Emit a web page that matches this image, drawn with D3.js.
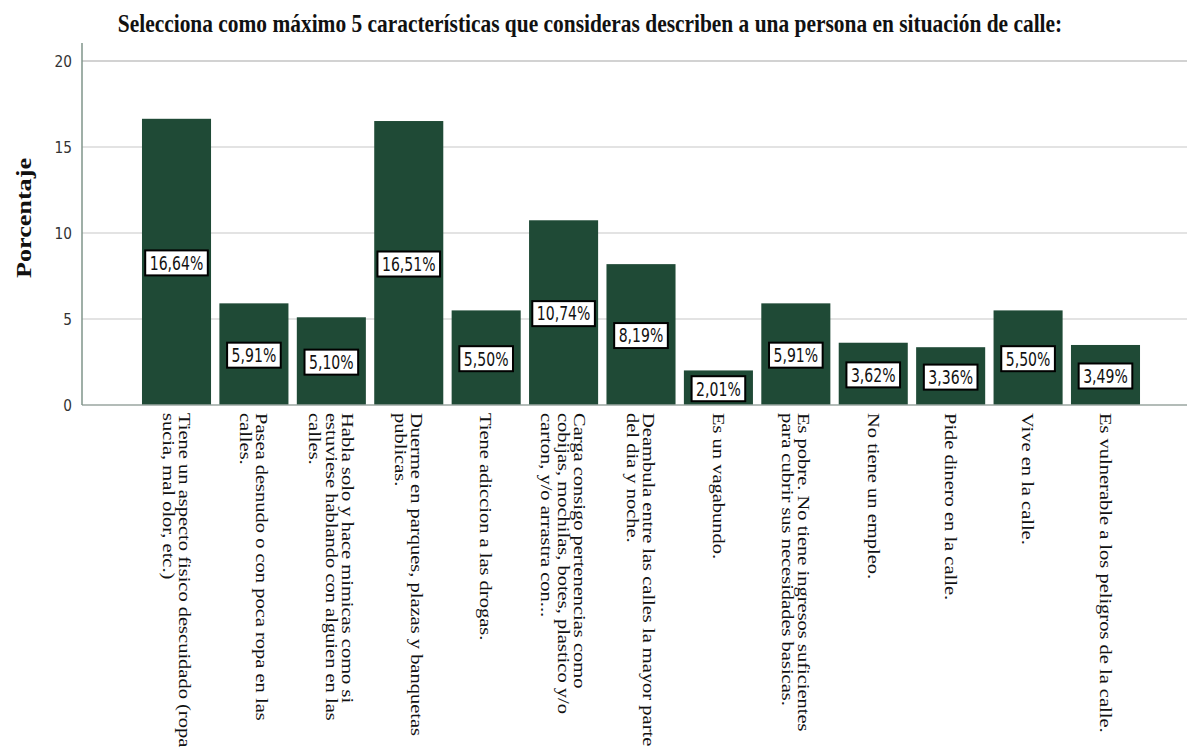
<!DOCTYPE html>
<html><head><meta charset="utf-8">
<script src="https://cdn.jsdelivr.net/npm/d3@7"></script>
<style>body{margin:0;background:#fff}svg{display:block}</style>
</head><body>
<svg id="c" width="1187" height="755"></svg>
<script>
const titleText = "Selecciona como máximo 5 características que consideras describen a una persona en situación de calle:";
const yTitle = "Porcentaje";
const categories = [
  ["Tiene un aspecto fisico descuidado (ropa", "sucia, mal olor, etc.)"],
  ["Pasea desnudo o con poca ropa en las", "calles."],
  ["Habla solo y hace mimicas como si", "estuviese hablando con alguien en las", "calles."],
  ["Duerme en parques, plazas y banquetas", "publicas."],
  ["Tiene adiccion a las drogas."],
  ["Carga consigo pertenencias como", "cobijas, mochilas, botes, plastico y/o", "carton, y/o arrastra con..."],
  ["Deambula entre las calles la mayor parte", "del dia y noche."],
  ["Es un vagabundo."],
  ["Es pobre. No tiene ingresos suficientes", "para cubrir sus necesidades basicas."],
  ["No tiene un empleo."],
  ["Pide dinero en la calle."],
  ["Vive en la calle."],
  ["Es vulnerable a los peligros de la calle."]
];
const values = [16.64, 5.91, 5.10, 16.51, 5.50, 10.74, 8.19, 2.01, 5.91, 3.62, 3.36, 5.50, 3.49];
const yTicks = [0, 5, 10, 15, 20];

const svg = d3.select("#c");
const idx = d3.range(values.length);
const x = d3.scaleBand().domain(idx).range([137.8, 1144.2]).paddingInner(0.108).paddingOuter(0.054);
const y = d3.scaleLinear().domain([0, 20]).range([405, 61]);
const axisX0 = 82, gridRight = 1187;

// gridlines
svg.append("g").selectAll("line").data(yTicks.filter(d => d > 0)).join("line")
  .attr("x1", axisX0).attr("x2", gridRight)
  .attr("y1", d => y(d)).attr("y2", d => y(d))
  .attr("stroke", d => d === 20 ? "#d2d2d2" : "#c8c8c8")
  .attr("stroke-width", d => d === 20 ? 2 : 1.2);

// bars
svg.append("g").selectAll("rect").data(idx).join("rect")
  .attr("x", i => x(i)).attr("width", x.bandwidth())
  .attr("y", i => y(values[i])).attr("height", i => y(0) - y(values[i]))
  .attr("fill", "#1f4a36");

// x axis baseline
svg.append("line").attr("x1", axisX0).attr("x2", gridRight)
  .attr("y1", y(0)).attr("y2", y(0)).attr("stroke", "#9aa6a0").attr("stroke-width", 1.5);

// y axis
const yAxis = d3.axisLeft(y).tickValues(yTicks).tickSize(0).tickPadding(10);
const ga = svg.append("g").attr("transform", `translate(${axisX0},0)`).call(yAxis);
ga.select(".domain").remove();
ga.selectAll(".tick text").each(function () {
  const t = d3.select(this);
  const xx = +t.attr("x");
  t.attr("x", null).attr("transform", `translate(${xx},0) scale(0.83,1)`);
}).attr("font-family", "DejaVu Sans, sans-serif").attr("font-size", 16.5).attr("fill", "#333");
svg.append("line").attr("x1", axisX0).attr("x2", axisX0).attr("y1", 43).attr("y2", y(0))
  .attr("stroke", "#7f948a").attr("stroke-width", 1.5);

// value labels
const fmt = v => v.toFixed(2).replace(".", ",") + "%";
const sx = 0.74;
const lg = svg.append("g").selectAll("g").data(idx).join("g")
  .attr("transform", i => `translate(${x(i) + x.bandwidth() / 2},${(y(values[i]) + y(0)) / 2 + 1})`);
lg.append("text").text(i => fmt(values[i]))
  .attr("transform", `scale(${sx},1)`)
  .attr("text-anchor", "middle").attr("dominant-baseline", "central")
  .attr("font-family", "DejaVu Sans, sans-serif").attr("font-size", 19).attr("fill", "#111")
  .each(function () {
    const b = this.getBBox();
    const w = b.width * sx + 9;
    d3.select(this.parentNode).insert("rect", "text")
      .attr("x", -w / 2).attr("y", -12.5).attr("width", w).attr("height", 25)
      .attr("fill", "#fff").attr("stroke", "#000").attr("stroke-width", 2);
  });

// category labels (rotated, glyphs slightly condensed across the line direction)
const lh = 16.5, sy = 0.8;
const cg = svg.append("g").selectAll("g").data(idx).join("g")
  .attr("transform", i => `translate(${x(i) + x.bandwidth() / 2},413) rotate(90) scale(1,${sy})`);
cg.each(function (i) {
  const lines = categories[i];
  const n = lines.length;
  d3.select(this).selectAll("text").data(lines).join("text")
    .attr("x", 0).attr("y", (d, k) => (k - (n - 1) / 2) * lh / sy)
    .attr("dominant-baseline", "central")
    .attr("font-family", "Liberation Serif, Times New Roman, serif").attr("font-size", 20.5)
    .attr("fill", "#111").text(d => d);
});

// title
const tg = svg.append("g");
const tt = tg.append("text").attr("x", 0).attr("y", 0).attr("text-anchor", "middle")
  .attr("font-family", "Liberation Serif, Times New Roman, serif").attr("font-weight", "bold")
  .attr("font-size", 25).attr("fill", "#111").text(titleText);
const tw = tt.node().getComputedTextLength();
tg.attr("transform", `translate(590,32) scale(${945 / tw},1)`);

// y title
svg.append("text").attr("transform", "translate(31,218) rotate(-90)").attr("text-anchor", "middle")
  .attr("font-family", "Liberation Serif, Times New Roman, serif").attr("font-weight", "bold")
  .attr("font-size", 22).attr("textLength", 120).attr("lengthAdjust", "spacingAndGlyphs")
  .attr("fill", "#111").text(yTitle);
</script>
</body></html>
